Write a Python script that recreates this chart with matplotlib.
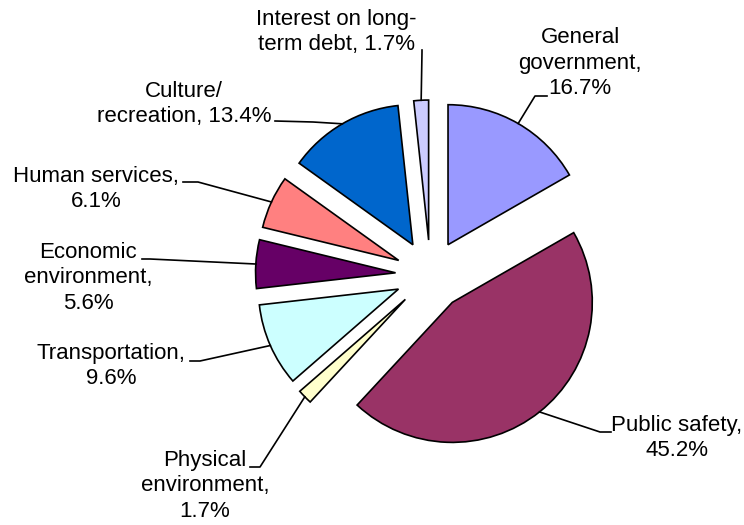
import matplotlib
matplotlib.use("Agg")
import matplotlib.pyplot as plt
import numpy as np

# spending shares, clockwise from 12 o'clock
categories = ['General\ngovernment', 'Public safety', 'Physical\nenvironment',
              'Transportation', 'Economic\nenvironment', 'Human services',
              'Culture/\nrecreation', 'Interest on long-\nterm debt']
shares = [16.7, 45.2, 1.7, 9.6, 5.6, 6.1, 13.4, 1.7]
colors = ['#9999FF', '#993366', '#FFFFCC', '#CCFFFF',
          '#660066', '#FF8080', '#0066CC', '#CCCCFF']

W, H = 744, 525
CENTER = (430.5, H - 275)
RADIUS = 140
EXPLODE = 35

# label layout in pixel coords (y down): text centre, knee, leader end
label_layout = [
    dict(text=(580, 63), knee=(535, 96), end=(547, 96), sep='\n'),
    dict(text=(677, 438), knee=(600, 432), end=(611, 432), sep='\n'),
    dict(text=(205, 486), knee=(260, 467), end=(250, 467), sep='\n'),
    dict(text=(111, 366), knee=(200, 361), end=(190, 361), sep='\n'),
    dict(text=(88, 278), knee=(150, 259), end=(142, 259), sep='\n'),
    dict(text=(96, 189), knee=(198, 182), end=(183, 182), sep='\n'),
    dict(text=(184, 104), knee=(313, 122), end=(275, 121), sep=' '),
    dict(text=(336, 32), knee=(422, 52), end=(422, 50), sep=' '),
]

plt.rcParams['font.family'] = ['Liberation Sans', 'DejaVu Sans']

fig = plt.figure(figsize=(W / 100, H / 100), dpi=100)
ax = fig.add_axes([0, 0, 1, 1])

wedges, _ = ax.pie(shares, colors=colors, startangle=90, counterclock=False,
                   explode=[EXPLODE] * len(shares), radius=RADIUS, center=CENTER,
                   wedgeprops=dict(edgecolor='black', linewidth=1.2))

ax.set_xlim(0, W)
ax.set_ylim(0, H)
ax.set_aspect('equal')
ax.axis('off')


def px(p):
    return (p[0], H - p[1])


for w, cat, val, lay in zip(wedges, categories, shares, label_layout):
    mid = np.deg2rad((w.theta1 + w.theta2) / 2)
    cx, cy = w.center
    arc = (cx + RADIUS * np.cos(mid), cy + RADIUS * np.sin(mid))
    k = px(lay['knee'])
    e = px(lay['end'])
    ax.plot([arc[0], k[0], e[0]], [arc[1], k[1], e[1]], color='black', lw=1.2)
    tx, ty = px(lay['text'])
    ax.text(tx, ty, f"{cat},{lay['sep']}{val}%", ha='center', va='center',
            fontsize=16, linespacing=1.3)

fig.savefig('out.png', dpi=100)
